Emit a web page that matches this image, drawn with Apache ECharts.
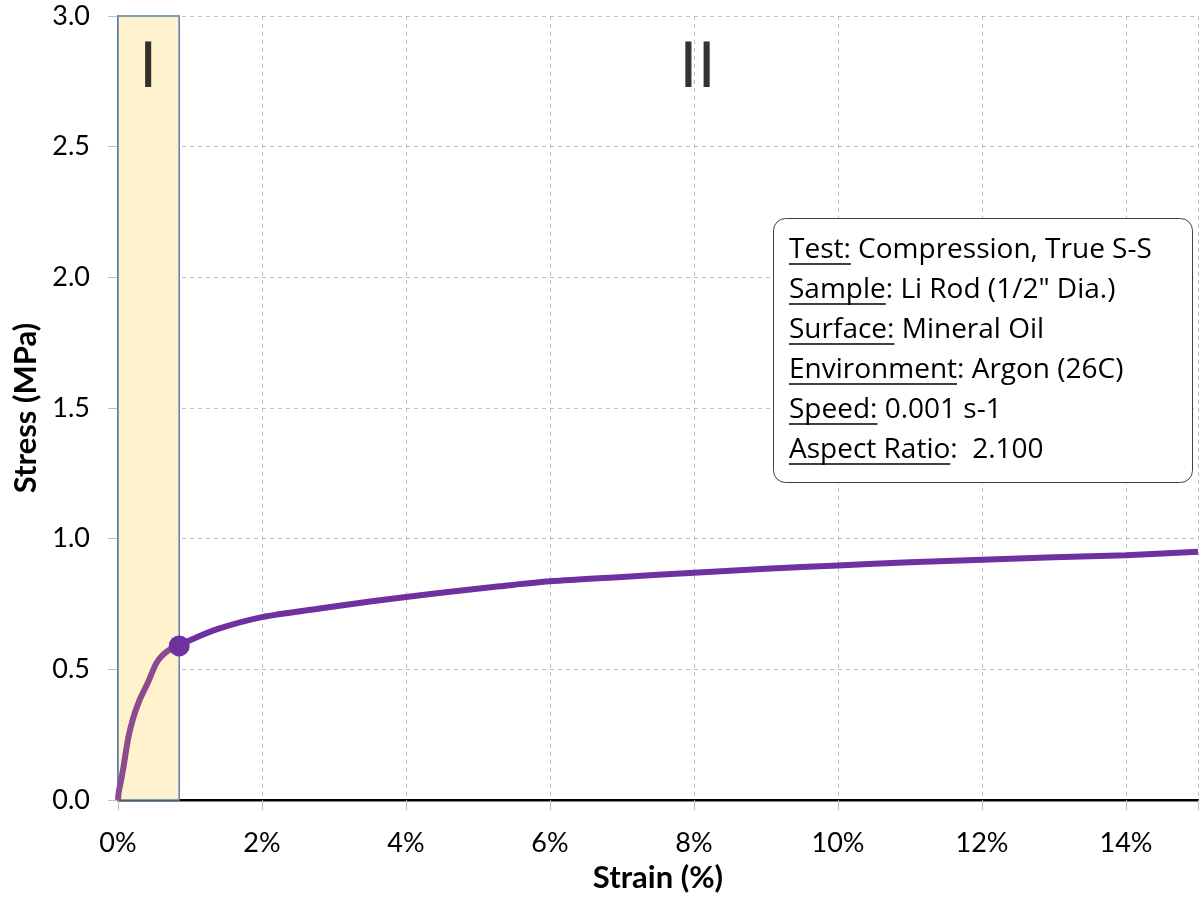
<!DOCTYPE html>
<html>
<head>
<meta charset="utf-8">
<style>html,body{margin:0;padding:0;background:#fff;}#chart{width:1201px;height:898px;}</style>
<script src="https://cdn.jsdelivr.net/npm/echarts@6/dist/echarts.min.js"></script>
</head>
<body>
<div id="chart"></div>
<script>
// Region I (elastic) data: strain (%) and stress (MPa)
var strainI = [0, 0.01, 0.04, 0.073, 0.142, 0.21, 0.30, 0.42, 0.53, 0.62, 0.74, 0.85];
var stressI = [0, 0.03, 0.071, 0.122, 0.237, 0.313, 0.383, 0.453, 0.523, 0.555, 0.58, 0.59];
// Region II (plastic) data
var strainII = [0.85, 1.0, 1.4, 2.0, 2.8, 3.5, 4.0, 4.8, 5.3, 6.0, 7.0, 8.0, 9.0, 10.0, 11.0, 12.0, 13.0, 14.0, 15.0];
var stressII = [0.59, 0.612, 0.656, 0.70, 0.733, 0.76, 0.777, 0.803, 0.818, 0.837, 0.854, 0.870, 0.885, 0.898, 0.91, 0.920, 0.929, 0.937, 0.95];
// Transition point and region I boundary
var yieldPoint = [0.85, 0.59];
var regionIEnd = 0.85;
// Axis ticks
var xTicks = [0, 2, 4, 6, 8, 10, 12, 14];
var yTicks = [0, 0.5, 1.0, 1.5, 2.0, 2.5, 3.0];
var regionLabels = ['I', 'II'];
var regionLabelX = [0.42, 8.05];
var infoLines = [
  ['Test:', ' Compression, True S-S'],
  ['Sample', ': Li Rod (1/2" Dia.)'],
  ['Surface:', ' Mineral Oil'],
  ['Environment', ': Argon (26C)'],
  ['Speed:', ' 0.001 s-1'],
  ['Aspect Ratio', ':  2.100']
];

var FONT = 'Lato';
var BOXFONT = 'Open Sans';
function zip(a, b) { return a.map(function (v, i) { return [v, b[i]]; }); }

var chart = echarts.init(document.getElementById('chart'), null, { renderer: 'canvas' });

// measure text for underlines
var mctx = document.createElement('canvas').getContext('2d');
var boxFont = 28;
mctx.font = boxFont + 'px "' + BOXFONT + '"';

var graphics = [];
graphics.push({
  type: 'rect', left: 773, top: 218, z: 100,
  shape: { width: 419, height: 264, r: 12 },
  style: { fill: '#fff', stroke: '#404040', lineWidth: 1 }
});
infoLines.forEach(function (ln, i) {
  var cy = 250 + i * 40;
  var w = mctx.measureText(ln[0]).width;
  graphics.push({ type: 'text', x: 789, y: cy, z: 101,
    style: { text: ln[0], font: boxFont + 'px "' + BOXFONT + '"', fill: '#000', textVerticalAlign: 'middle', textAlign: 'left' } });
  graphics.push({ type: 'line', z: 101, shape: { x1: 789, y1: cy + 14, x2: 789 + w, y2: cy + 14 },
    style: { stroke: '#000', lineWidth: 1.3 } });
  graphics.push({ type: 'text', x: 789 + w, y: cy, z: 101,
    style: { text: ln[1], font: boxFont + 'px "' + BOXFONT + '"', fill: '#000', textVerticalAlign: 'middle', textAlign: 'left' } });
});

var option = {
  animation: false,
  backgroundColor: '#fff',
  grid: { left: 118, right: -8, top: 16, bottom: 94, containLabel: false },
  xAxis: [{
    type: 'value', min: 0, max: 15, interval: 2,
    name: 'Strain (%)', nameLocation: 'middle', nameGap: 59,
    nameTextStyle: { fontFamily: FONT, fontWeight: 'bold', fontSize: 31, color: '#000' },
    axisLine: { show: true, onZero: false, lineStyle: { color: '#595959', width: 2.5 } },
    axisTick: { show: true, length: 10, lineStyle: { color: '#BFBFBF', width: 1 } },
    axisLabel: { margin: 30, fontFamily: FONT, fontSize: 27, color: '#000',
      formatter: function (v) { return xTicks.indexOf(v) >= 0 ? v + '%' : ''; } },
    splitLine: { show: true, lineStyle: { color: '#BFBFBF', type: [4, 4], width: 1 } }
  }, {
    type: 'value', min: 0, max: 15, interval: 2, position: 'top',
    axisLine: { show: true, lineStyle: { color: '#000', width: 2 } },
    axisTick: { show: false }, axisLabel: { show: false }, splitLine: { show: false }
  }],
  yAxis: {
    type: 'value', min: 0, max: 3, interval: 0.5,
    name: 'Stress (MPa)', nameLocation: 'middle', nameGap: 68, nameRotate: 90,
    nameTextStyle: { fontFamily: FONT, fontWeight: 'bold', fontSize: 31, color: '#000' },
    axisLine: { show: true, lineStyle: { color: '#404040', width: 1.5 } },
    axisTick: { show: true, length: 10, lineStyle: { color: '#BFBFBF', width: 1 } },
    axisLabel: { margin: 28, fontFamily: FONT, fontSize: 27, color: '#000',
      formatter: function (v) { return yTicks.indexOf(v) >= 0 ? v.toFixed(1) : ''; } },
    splitLine: { show: true, lineStyle: { color: '#BFBFBF', type: [4, 4], width: 1 } }
  },
  series: [{
    type: 'line', name: 'Region I', data: zip(strainI, stressI),
    showSymbol: false, smooth: 0.2, z: 5,
    lineStyle: { color: '#8B4B8E', width: 6 },
    markArea: {
      silent: true,
      itemStyle: { color: '#FFF2CC', borderColor: '#5581AD', borderWidth: 1.5 },
      data: [[{ xAxis: 0, yAxis: 0 }, { xAxis: regionIEnd, yAxis: 3 }]]
    }
  }, {
    type: 'line', name: 'Region II', data: zip(strainII, stressII),
    showSymbol: false, smooth: 0.3, z: 5,
    lineStyle: { color: '#7030A0', width: 6 }
  }, {
    type: 'scatter', data: [yieldPoint], symbolSize: 21, z: 6,
    itemStyle: { color: '#7030A0', opacity: 1 }
  }, {
    type: 'scatter', data: [[regionLabelX[0], 2.79], [regionLabelX[1], 2.79]], symbolSize: 0, z: 7, silent: true,
    label: { show: true, position: 'inside', fontFamily: 'DejaVu Sans', fontSize: 62, color: '#000',
      formatter: function (p) { return regionLabels[p.dataIndex]; } }
  }],
  graphic: graphics
};
chart.setOption(option);
</script>
</body>
</html>
